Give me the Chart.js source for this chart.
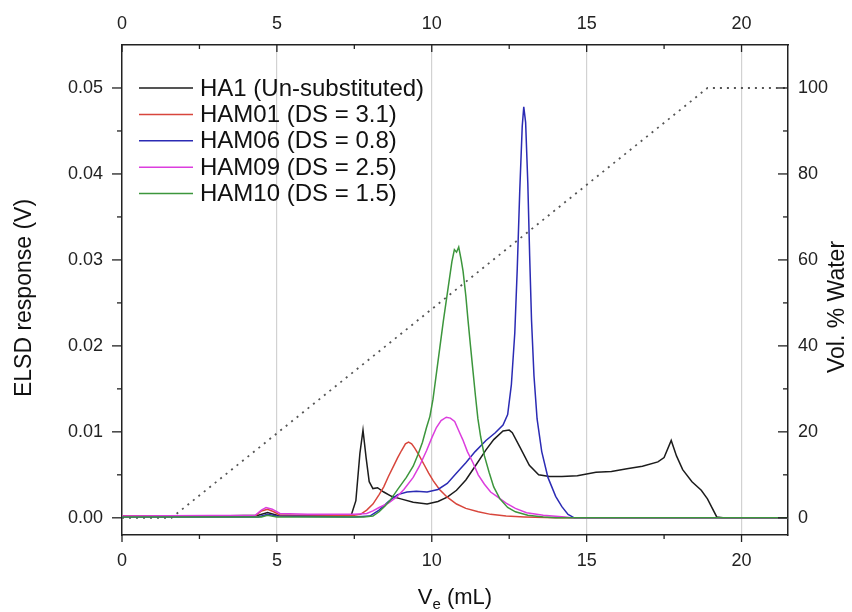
<!DOCTYPE html>
<html>
<head>
<meta charset="utf-8">
<title>ELSD traces</title>
<script src="https://cdn.jsdelivr.net/npm/chart.js@4.4.1/dist/chart.umd.min.js"></script>
<style>
  html, body { margin: 0; padding: 0; background: #fff; }
</style>
</head>
<body>
<canvas id="myChart" width="852" height="612"></canvas>
<script>
// elution volume (mL) vs ELSD signal (V), one list of [Ve, V] per sample
const ha1 = [
    [0, 0.0002], [3, 0.0002], [4.4, 0.0003], [4.7, 0.0006], [5.0, 0.0003], [6, 0.0002], [7.4, 0.0003],
    [7.55, 0.002], [7.68, 0.0075], [7.78, 0.0102], [7.88, 0.007], [7.98, 0.0042], [8.1, 0.0034],
    [8.25, 0.0035], [8.45, 0.003], [8.7, 0.0025], [9.0, 0.0022], [9.4, 0.0018], [9.85, 0.0016],
    [10.2, 0.0019], [10.5, 0.0024], [10.8, 0.0032], [11.1, 0.0044], [11.4, 0.006], [11.75, 0.0079],
    [12.0, 0.0091], [12.3, 0.0101], [12.5, 0.0102], [12.6, 0.0099], [12.85, 0.0082], [13.15, 0.0061],
    [13.45, 0.005], [13.8, 0.0048], [14.2, 0.0048], [14.7, 0.0049], [15.3, 0.0053], [15.8, 0.0054],
    [16.3, 0.0057], [16.8, 0.006], [17.3, 0.0065], [17.5, 0.007], [17.73, 0.009], [17.9, 0.0072],
    [18.1, 0.0056], [18.4, 0.0042], [18.7, 0.0032], [18.9, 0.0022], [19.2, 0.0001], [19.4, 0], [21.5, 0]
];
const ham01 = [
    [0, 0.0002], [4.3, 0.0002], [4.5, 0.0008], [4.7, 0.001], [4.9, 0.0007], [5.1, 0.0003], [6, 0.0003],
    [7.5, 0.0003], [7.7, 0.0004], [7.9, 0.0009], [8.1, 0.0016], [8.3, 0.0027], [8.45, 0.0036],
    [8.6, 0.0048], [8.75, 0.0059], [8.9, 0.007], [9.02, 0.0078], [9.15, 0.0086], [9.25, 0.0088],
    [9.35, 0.0086], [9.45, 0.0081], [9.6, 0.0072], [9.75, 0.0062], [9.9, 0.0052], [10.05, 0.0043],
    [10.25, 0.0033], [10.5, 0.0024], [10.8, 0.0016], [11.1, 0.0011], [11.5, 0.0007], [11.9, 0.0004],
    [12.4, 0.0002], [13, 0.0001], [14, 0], [21.5, 0]
];
const ham06 = [
    [0, 0.0001], [4.4, 0.0001], [4.7, 0.0004], [5.0, 0.0002], [7.5, 0.0001], [8.0, 0.0002], [8.3, 0.0009],
    [8.6, 0.0019], [8.9, 0.0027], [9.2, 0.003], [9.5, 0.0031], [9.85, 0.003], [10.2, 0.0033],
    [10.5, 0.004], [10.8, 0.0052], [11.1, 0.0064], [11.4, 0.0077], [11.75, 0.009], [12.05, 0.0099],
    [12.3, 0.0108], [12.45, 0.012], [12.57, 0.0155], [12.68, 0.0215], [12.76, 0.029], [12.84, 0.038],
    [12.92, 0.0455], [12.97, 0.0478], [13.03, 0.046], [13.1, 0.039], [13.16, 0.0305], [13.22, 0.023],
    [13.3, 0.0165], [13.4, 0.0115], [13.55, 0.0077], [13.75, 0.0047], [14.0, 0.0025], [14.2, 0.0013],
    [14.4, 0.0004], [14.6, 0], [21.5, 0]
];
const ham09 = [
    [0, 0.0002], [4.3, 0.0003], [4.5, 0.0009], [4.65, 0.0012], [4.85, 0.001], [5.1, 0.0005], [6, 0.0004],
    [7.5, 0.0004], [7.9, 0.0005], [8.1, 0.0008], [8.3, 0.0012], [8.6, 0.0017], [8.86, 0.0024],
    [9.1, 0.0033], [9.4, 0.0047], [9.6, 0.006], [9.83, 0.0078], [10.0, 0.0093], [10.15, 0.0105],
    [10.3, 0.0113], [10.47, 0.0117], [10.6, 0.0116], [10.74, 0.0112], [10.9, 0.0099], [11.0, 0.0091],
    [11.15, 0.0077], [11.33, 0.0064], [11.5, 0.005], [11.7, 0.0039], [11.9, 0.003], [12.1, 0.0025],
    [12.4, 0.0017], [12.7, 0.0011], [13.06, 0.0006], [13.6, 0.0003], [14.3, 0.0001], [14.5, 0], [21.5, 0]
];
const ham10 = [
    [0, 0.0001], [4.5, 0.0001], [4.7, 0.0003], [5.0, 0.0001], [7.8, 0.0001], [8.1, 0.0002], [8.3, 0.0007],
    [8.5, 0.0014], [8.65, 0.002], [8.9, 0.0033], [9.18, 0.0047], [9.4, 0.006], [9.56, 0.0074],
    [9.7, 0.0088], [9.83, 0.0105], [9.94, 0.0118], [10.04, 0.0138], [10.15, 0.0168], [10.26, 0.0198],
    [10.37, 0.0228], [10.53, 0.0268], [10.65, 0.0298], [10.73, 0.0312], [10.8, 0.0309], [10.87, 0.0315],
    [10.95, 0.03], [11.01, 0.0287], [11.1, 0.0258], [11.17, 0.023], [11.25, 0.02], [11.33, 0.0171],
    [11.41, 0.0142], [11.49, 0.0115], [11.58, 0.0094], [11.7, 0.0072], [11.85, 0.0053], [12.0, 0.0036],
    [12.2, 0.0022], [12.45, 0.0012], [12.7, 0.0007], [13.1, 0.0003], [13.6, 0.0001], [14, 0], [21.5, 0]
];
// solvent gradient, vol. % water
const water = [[0, 0], [1.6, 0], [18.9, 100], [21.5, 100]];

const seriesNames = ['HA1 (Un-substituted)', 'HAM01 (DS = 3.1)', 'HAM06 (DS = 0.8)', 'HAM09 (DS = 2.5)', 'HAM10 (DS = 1.5)'];
const seriesColors = ['#1c1c1c', '#d8463c', '#2b2bb4', '#dc3ede', '#3c963c'];

const xTicks = [0, 5, 10, 15, 20];
const xMinor = [2.5, 7.5, 12.5, 17.5];
const yTicks = [0, 0.01, 0.02, 0.03, 0.04, 0.05];
const yMinor = [0.005, 0.015, 0.025, 0.035, 0.045];
const wTicks = [0, 20, 40, 60, 80, 100];
const wMinor = [10, 30, 50, 70, 90];

const FONT = "'Liberation Sans', Arial, sans-serif";
const INK = '#222';

const toPoints = arr => arr.map(p => ({x: p[0], y: p[1]}));
const fixTicks = list => scale => { scale.ticks = list.map(v => ({value: v})); };

const datasets = [ha1, ham01, ham06, ham09, ham10].map((s, i) => ({
    label: seriesNames[i],
    data: toPoints(s),
    borderColor: seriesColors[i],
    borderWidth: 1.5,
    pointRadius: 0,
    tension: 0,
    order: 5 - i,
    yAxisID: 'y'
}));
datasets.push({
    label: 'Vol. % Water',
    data: toPoints(water),
    borderColor: '#555',
    borderWidth: 1.8,
    borderDash: [2, 5],
    pointRadius: 0,
    order: 9,
    yAxisID: 'y2'
});

// tick marks (inward on top/right, outward on left/bottom), titles, legend
const decorations = {
    id: 'decorations',
    afterDraw(chart) {
        const {ctx, chartArea: a, scales} = chart;
        ctx.save();
        ctx.strokeStyle = INK;
        ctx.lineWidth = 1.3;
        const line = (x1, y1, x2, y2) => {
            ctx.beginPath(); ctx.moveTo(x1, y1); ctx.lineTo(x2, y2); ctx.stroke();
        };
        xTicks.forEach(v => {
            const p = scales.x.getPixelForValue(v);
            line(p, a.bottom, p, a.bottom + 7);
            line(p, a.top, p, a.top + 7);
        });
        xMinor.forEach(v => {
            const p = scales.x.getPixelForValue(v);
            line(p, a.bottom, p, a.bottom + 4);
            line(p, a.top, p, a.top + 4);
        });
        yTicks.forEach(v => {
            const p = scales.y.getPixelForValue(v);
            line(a.left - 10, p, a.left, p);
        });
        yMinor.forEach(v => {
            const p = scales.y.getPixelForValue(v);
            line(a.left - 5, p, a.left, p);
        });
        wTicks.forEach(v => {
            const p = scales.y2.getPixelForValue(v);
            line(a.right - 10, p, a.right, p);
        });
        wMinor.forEach(v => {
            const p = scales.y2.getPixelForValue(v);
            line(a.right - 5, p, a.right, p);
        });

        // axis titles
        ctx.fillStyle = '#111';
        ctx.textBaseline = 'middle';
        ctx.textAlign = 'center';
        ctx.font = '23px ' + FONT;
        ctx.save();
        ctx.translate(25, 298);
        ctx.rotate(-Math.PI / 2);
        ctx.fillText('ELSD response (V)', 0, 0);
        ctx.restore();
        ctx.save();
        ctx.translate(838, 307);
        ctx.rotate(-Math.PI / 2);
        ctx.fillText('Vol. % Water', 0, 0);
        ctx.restore();

        // V with subscript e, then (mL)
        const big = '22px ' + FONT, small = '15px ' + FONT;
        ctx.font = big;
        const wV = ctx.measureText('V').width;
        const wRest = ctx.measureText(' (mL)').width;
        ctx.font = small;
        const wE = ctx.measureText('e').width;
        let x0 = 455 - (wV + wE + wRest) / 2;
        ctx.textAlign = 'left';
        ctx.font = big;
        ctx.fillText('V', x0, 598);
        ctx.font = small;
        ctx.fillText('e', x0 + wV, 605);
        ctx.font = big;
        ctx.fillText(' (mL)', x0 + wV + wE, 598);

        // legend
        ctx.font = '24px ' + FONT;
        ctx.textAlign = 'left';
        ctx.lineWidth = 1.5;
        chart.data.datasets.slice(0, 5).forEach((ds, i) => {
            const y = 88 + i * 26.4;
            ctx.strokeStyle = ds.borderColor;
            line(139, y, 193, y);
            ctx.fillStyle = '#111';
            ctx.fillText(ds.label, 200, y + 1);
        });
        ctx.restore();
    }
};

const tickFont = {family: FONT, size: 18};

const config = {
    type: 'line',
    data: {datasets: datasets},
    options: {
        responsive: false,
        animation: false,
        devicePixelRatio: 1,
        layout: {padding: 0},
        plugins: {legend: {display: false}, tooltip: {enabled: false}},
        scales: {
            x: {
                type: 'linear', position: 'bottom', min: 0, max: 21.5,
                afterBuildTicks: fixTicks(xTicks),
                afterFit: s => { s.height = 77; },
                ticks: {font: tickFont, color: INK, padding: 15, maxRotation: 0},
                grid: {
                    drawTicks: false,
                    color: c => (c.tick && c.tick.value === 0 ? 'rgba(0,0,0,0)' : '#d2d2d2'),
                    lineWidth: 1.2
                },
                border: {color: INK, width: 1.5}
            },
            x2: {
                type: 'linear', position: 'top', min: 0, max: 21.5,
                afterBuildTicks: fixTicks(xTicks),
                afterFit: s => { s.height = 45; },
                ticks: {font: tickFont, color: INK, padding: 10, maxRotation: 0},
                grid: {display: false, drawTicks: false},
                border: {color: INK, width: 1.5}
            },
            y: {
                type: 'linear', position: 'left', min: -0.002, max: 0.055,
                afterBuildTicks: fixTicks(yTicks),
                afterFit: s => { s.width = 122; },
                ticks: {font: tickFont, color: INK, padding: 19, callback: v => v.toFixed(2)},
                grid: {display: false, drawTicks: false},
                border: {color: INK, width: 1.5}
            },
            y2: {
                type: 'linear', position: 'right', min: -4, max: 110,
                afterBuildTicks: fixTicks(wTicks),
                afterFit: s => { s.width = 64; },
                ticks: {font: tickFont, color: INK, padding: 10},
                grid: {display: false, drawTicks: false},
                border: {color: INK, width: 1.5}
            }
        }
    },
    plugins: [decorations]
};

new Chart(document.getElementById('myChart'), config);
</script>
</body>
</html>
